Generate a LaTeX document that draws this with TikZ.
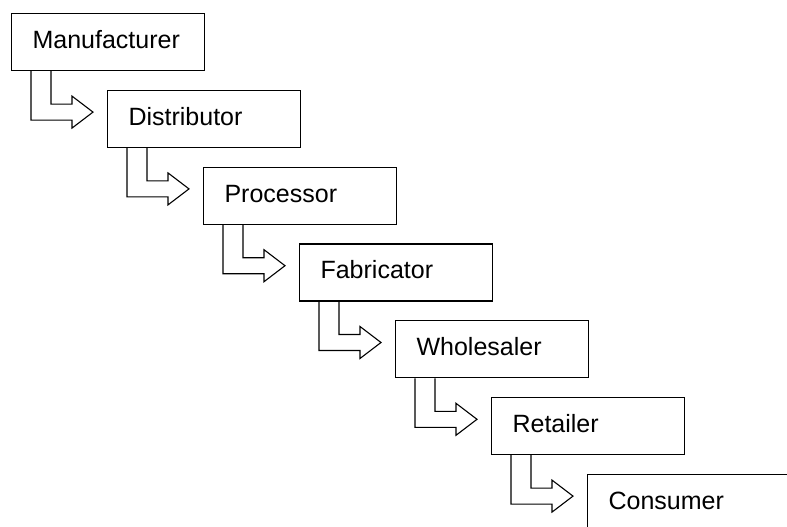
\documentclass[tikz,border=0pt]{standalone}
\usepackage{fontspec}
\setmainfont{Liberation Sans}
\usetikzlibrary{calc}
\begin{document}
\begin{tikzpicture}[x=1pt,y=1pt,
  stage/.style={draw, line width=1.1pt, rectangle, anchor=north west,
    minimum width=193pt, minimum height=57pt, inner xsep=21pt, inner ysep=0pt,
    text width=151pt, align=left, text height=18pt, text depth=5pt,
    font=\fontsize{25}{30}\selectfont},
  flow/.style={draw, line width=1.1pt, line join=miter}]
\useasboundingbox (0,0) rectangle (787,-527);
\clip (0,0) rectangle (787,-527);
% the chain of stages, each stepping down and to the right
\node[stage] (s0) at (11,-13)    {Manufacturer};
\node[stage] (s1) at (107,-89.8) {Distributor};
\node[stage] (s2) at (203,-166.6) {Processor};
\node[stage] (s3) at (299,-243.4) {Fabricator};
\node[stage] (s4) at (395,-320.2) {Wholesaler};
\node[stage] (s5) at (491,-397)  {Retailer};
\node[stage, text width=210pt] (s6) at (587,-473.8) {Consumer};
% hollow elbow arrows from each stage to the next
\foreach \a/\b in {s0/s1,s1/s2,s2/s3,s3/s4,s4/s5,s5/s6}{
  \draw[flow] ([xshift=20pt]\a.south west) -- ++(0,-49) -- ++(41,0) -- ++(0,-8)
    -- ++(21,16) -- ++(-21,16) -- ++(0,-8) -- ++(-21,0) -- ++(0,33);
}
\end{tikzpicture}
\end{document}
